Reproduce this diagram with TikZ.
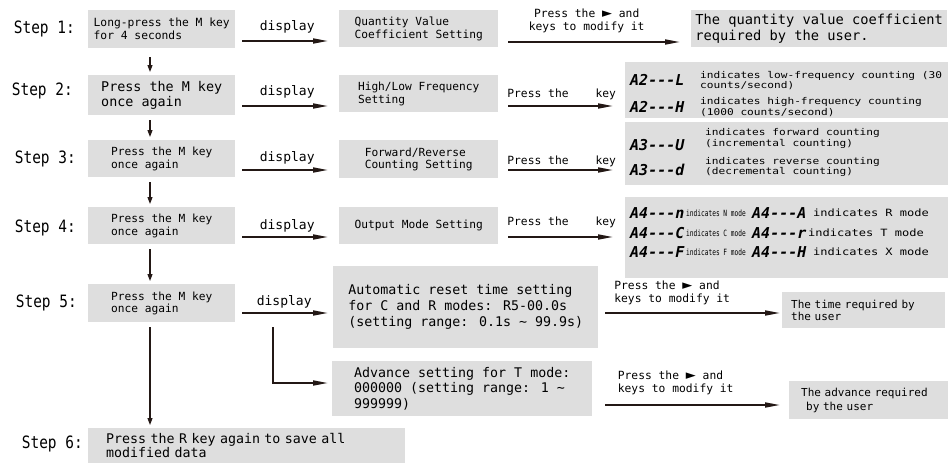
\documentclass[tikz,border=0pt]{standalone}
\usepackage{fontspec}
\setmainfont{DejaVu Sans Mono}
\newfontfamily\stepfont[FakeStretch=0.85]{DejaVu Sans Mono}
\newfontfamily\widefont[FakeStretch=1.2]{DejaVu Sans Mono}
\newfontfamily\slimfont[FakeStretch=0.72]{DejaVu Sans Mono}
\newfontfamily\segfont{DejaVu Sans Mono}
\newfontfamily\keyfont{DejaVu Sans}
\usetikzlibrary{arrows.meta, positioning}
\definecolor{boxgray}{RGB}{222,222,222}
\definecolor{inkline}{RGB}{35,24,21}
\newcommand{\rightkey}{{\keyfont\fontsize{13}{13}\selectfont ►}}

\begin{document}
\begin{tikzpicture}[x=1pt, y=-1pt,
        gbox/.style={fill=boxgray, anchor=north west, inner sep=0pt, align=left},
        steplabel/.style={inner sep=0pt, font=\stepfont\fontsize{17}{19}\selectfont},
        seg/.style={anchor=west, inner sep=0pt, font=\segfont\bfseries\itshape\fontsize{15}{15}\selectfont},
        desc/.style={anchor=west, inner sep=0pt, align=left, font=\widefont\fontsize{9.3}{10.5}\selectfont},
        modetext/.style={anchor=west, inner sep=0pt, font=\slimfont\fontsize{8.6}{9}\selectfont},
        modewide/.style={anchor=west, inner sep=0pt, font=\widefont\fontsize{10}{10}\selectfont},
        lbl/.style={inner sep=0pt, align=left, font=\fontsize{11.3}{13}\selectfont},
        displbl/.style={inner sep=0pt, font=\fontsize{13}{15}\selectfont},
        harrow/.style={draw=inkline, line width=1.7pt, -{Triangle[length=15pt, width=5pt]}},
        varrow/.style={draw=inkline, line width=1.1pt, -{Triangle[length=7pt, width=5pt]}, shorten <=5pt, shorten >=3pt}
    ]
        \useasboundingbox (0,0) rectangle (948,463);

        % Key presses (left column)
        \node[gbox, minimum width=147pt, minimum height=38pt, font=\fontsize{11.3}{13}\selectfont] (b1) at (88,10) {Long-press the M key\\for 4 seconds};
        \node[gbox, minimum width=147pt, minimum height=40pt, font=\fontsize{13.4}{15}\selectfont] (b2) at (88,75) {Press the M key\\once again};
        \node[gbox, minimum width=147pt, minimum height=37pt, font=\fontsize{11.2}{12.5}\selectfont] (b3) at (88,140) {Press the M key\\once again};
        \node[gbox, minimum width=147pt, minimum height=37pt, font=\fontsize{11.2}{12.5}\selectfont] (b4) at (88,207) {Press the M key\\once again};
        \node[gbox, minimum width=147pt, minimum height=38pt, font=\fontsize{11.2}{12.5}\selectfont] (b5) at (88,284) {Press the M key\\once again};
        \node[gbox, text width=281pt, inner xsep=18pt, minimum height=35pt, font=\fontsize{13.3}{14}\selectfont] (b6) at (88,428) {Press the R key again to save all\\modified data};

        \node[steplabel, left=13pt of b1] (s1) {Step 1:};
        \node[steplabel, left=15pt of b2, yshift=4pt] (s2) {Step 2:};
        \node[steplabel, left=12pt of b3] (s3) {Step 3:};
        \node[steplabel, left=12pt of b4, yshift=-2pt] (s4) {Step 4:};
        \node[steplabel, left=11pt of b5] (s5) {Step 5:};
        \node[steplabel, left=5pt of b6, yshift=2pt] (s6) {Step 6:};

        \coordinate (spine) at (150,0);
        \draw[varrow, shorten <=9pt] (b1.south -| spine) -- (b2.north -| spine);
        \draw[varrow] (b2.south -| spine) -- (b3.north -| spine);
        \draw[varrow] (b3.south -| spine) -- (b4.north -| spine);
        \draw[varrow] (b4.south -| spine) -- (b5.north -| spine);
        \draw[varrow] (b5.south -| spine) -- (b6.north -| spine);

        % Settings shown (middle column)
        \node[gbox, minimum width=159pt, minimum height=37pt, font=\fontsize{11.2}{13}\selectfont] (m1) at (339,10) {Quantity Value\\Coefficient Setting};
        \node[gbox, minimum width=159pt, minimum height=37pt, font=\fontsize{11.2}{13}\selectfont] (m2) at (339,75) {High/Low Frequency\\Setting};
        \node[gbox, minimum width=159pt, minimum height=38pt, font=\fontsize{11.2}{12.5}\selectfont] (m3) at (339,140) {Forward/Reverse\\Counting Setting};
        \node[gbox, minimum width=159pt, minimum height=37pt, font=\fontsize{11.2}{13}\selectfont] (m4) at (339,207) {Output Mode Setting};
        \node[gbox, minimum width=265pt, minimum height=82pt, font=\fontsize{13.3}{16}\selectfont] (m5) at (333,266) {Automatic reset time setting\\for C and R modes: R5-00.0s\\(setting range: 0.1s \textasciitilde{} 99.9s)};
        \node[gbox, minimum width=260pt, minimum height=55pt, font=\fontsize{13.3}{15.5}\selectfont] (m6) at (332,361) {Advance setting for T mode:\\000000 (setting range: 1 \textasciitilde\\999999)};

        \coordinate (a1) at (0,41);
        \coordinate (a2) at (0,106);
        \coordinate (a3) at (0,170);
        \coordinate (a4) at (0,237);
        \coordinate (a5) at (0,313);
        \coordinate (a6) at (0,383);
        \draw[harrow, shorten <=7pt, shorten >=11pt] (b1.east |- a1) -- node[displbl, above=7pt] (d1) {display} (m1.west |- a1);
        \draw[harrow, shorten <=7pt, shorten >=11pt] (b2.east |- a2) -- node[displbl, above=7pt] (d2) {display} (m2.west |- a2);
        \draw[harrow, shorten <=7pt, shorten >=11pt] (b3.east |- a3) -- node[displbl, above=5pt] (d3) {display} (m3.west |- a3);
        \draw[harrow, shorten <=7pt, shorten >=11pt] (b4.east |- a4) -- node[displbl, above=4pt] (d4) {display} (m4.west |- a4);
        \draw[harrow, shorten <=7pt, shorten >=5pt] (b5.east |- a5) -- node[displbl, above=4pt] (d5) {display} (m5.west |- a5);
        \coordinate (fork) at (273,0);
        \draw[harrow, shorten <=5pt, shorten >=4pt] (b5.south -| fork) |- (m6.west |- a6);

        % Results (right column)
        \node[gbox, minimum width=256pt, minimum height=37pt, font=\fontsize{13.7}{16}\selectfont] (r1) at (691,10) {The quantity value coefficient\\required by the user.};

        \node[gbox, minimum width=323pt, minimum height=56pt] (r2) at (625,62) {};
        \node[seg] (c2l) at (630,80) {A2---L};
        \node[desc] (t2l) at (700,80.5) {indicates low-frequency counting (30\\counts/second)};
        \node[seg] (c2h) at (630,107) {A2---H};
        \node[desc] (t2h) at (700,107) {indicates high-frequency counting\\(1000 counts/second)};

        \node[gbox, minimum width=323pt, minimum height=63pt] (r3) at (625,122) {};
        \node[seg] (c3u) at (630,145) {A3---U};
        \node[desc] (t3u) at (705,138.5) {indicates forward counting\\(incremental counting)};
        \node[seg] (c3d) at (630,170) {A3---d};
        \node[desc] (t3d) at (705,167) {indicates reverse counting\\(decremental counting)};

        \node[gbox, minimum width=323pt, minimum height=81pt] (r4) at (625,197) {};
        \node[seg] (c4n) at (630,213) {A4---n};
        \node[modetext] (t4n) at (686,213) {indicates N mode};
        \node[seg] (c4a) at (752,213) {A4---A};
        \node[modewide] (t4a) at (813,213) {indicates R mode};
        \node[seg] (c4c) at (630,233) {A4---C};
        \node[modetext] (t4c) at (686,233) {indicates C mode};
        \node[seg] (c4t) at (752,233) {A4---r};
        \node[modewide] (t4t) at (808,233) {indicates T mode};
        \node[seg] (c4f) at (630,252) {A4---F};
        \node[modetext] (t4f) at (686,252) {indicates F mode};
        \node[seg] (c4x) at (752,252) {A4---H};
        \node[modewide] (t4x) at (813,252) {indicates X mode};

        \node[gbox, text width=145pt, inner xsep=9pt, minimum height=36pt, font=\fontsize{11}{12.5}\selectfont] (r5) at (782,292) {The time required by\\the user};
        \node[gbox, text width=135pt, inner xsep=12pt, minimum height=38pt, font=\fontsize{11}{14}\selectfont] (r6) at (789,381) {The advance required\\\hspace*{5pt}by the user};

        \coordinate (c1) at (0,42);
        \draw[harrow, shorten <=10pt, shorten >=11pt] (m1.east |- c1) -- node[lbl, align=center, above=8pt, xshift=-8pt] (k1) {Press the \rightkey{} and\\keys to modify it} (r1.west |- c1);
        \draw[harrow, shorten <=10pt, shorten >=12pt] (m2.east |- a2) -- node[lbl, above=5pt] (k2) {Press the\hspace{27pt}key} (r2.west |- a2);
        \draw[harrow, shorten <=10pt, shorten >=12pt] (m3.east |- a3) -- node[lbl, above=2pt] (k3) {Press the\hspace{27pt}key} (r3.west |- a3);
        \draw[harrow, shorten <=10pt, shorten >=12pt] (m4.east |- a4) -- node[lbl, above=8pt] (k4) {Press the\hspace{27pt}key} (r4.west |- a4);
        \draw[harrow, shorten <=7pt, shorten >=2pt] (m5.east |- a5) -- node[lbl, above=7pt, xshift=-18pt] (k5) {Press the \rightkey{} and\\keys to modify it} (r5.west |- a5);
        \coordinate (c6) at (0,405);
        \draw[harrow, shorten <=13pt, shorten >=9pt] (m6.east |- c6) -- node[lbl, above=9pt, xshift=-15pt] (k6) {Press the \rightkey{} and\\keys to modify it} (r6.west |- c6);

    \end{tikzpicture}
\end{document}
